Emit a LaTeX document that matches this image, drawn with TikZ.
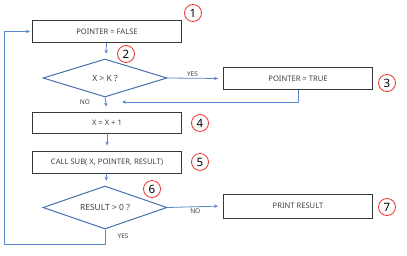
\documentclass[tikz,border=0pt]{standalone}
\usepackage{fontspec}
\setmainfont{Noto Sans}
\usetikzlibrary{arrows.meta,shapes.geometric}
\definecolor{fcline}{HTML}{5B87CF}
\definecolor{fcblue}{HTML}{4A6FAE}
\definecolor{fcedge}{HTML}{383838}
\definecolor{fctext}{HTML}{404040}
\definecolor{fcred}{HTML}{E8342C}

\begin{document}
\begin{tikzpicture}[x=1pt,y=-1pt,
    stepbox/.style={draw=fcedge,line width=0.9pt,minimum width=149pt,minimum height=22pt,
      inner sep=0pt,font=\fontsize{7.6}{9}\selectfont,text=fctext},
    test/.style={diamond,draw=fcblue,line width=1pt,aspect=2,minimum width=124pt,
      inner sep=0pt,font=\fontsize{8.5}{10}\selectfont,text=fctext},
    flow/.style={draw=fcline,line width=0.8pt,-{Stealth[length=4pt,width=3.5pt]},shorten >=5pt},
    tag/.style={font=\fontsize{6.5}{8}\selectfont,text=fctext,inner sep=1pt},
    numcirc/.style={circle,draw=fcred,line width=0.8pt,minimum size=17pt,inner sep=0pt,
      font=\fontsize{11.5}{12}\selectfont}]
  \useasboundingbox (0,0) rectangle (407,255);

  % boxes and tests
  \node[stepbox] (false) at (107,31.5) {POINTER = FALSE};
  \node[test,minimum height=38pt] (gt) at (105,78) {X > K ?};
  \node[stepbox] (true) at (298,78.5) {POINTER = TRUE};
  \node[stepbox,minimum height=21pt] (inc) at (107,122.5) {X = X + 1};
  \node[stepbox] (call) at (107,162) {CALL SUB( X, POINTER, RESULT)};
  \node[test,minimum height=43pt] (res) at (105,207.5) {RESULT > 0 ?};
  \node[stepbox,minimum height=24pt] (print) at (298,206) {PRINT RESULT};

  % numbers
  \foreach \n/\x/\y in {1/193/13, 2/126/54, 3/387/83, 4/200/123, 5/200/162, 6/152/189, 7/387/207}
    \node[numcirc] (num\n) at (\x,\y) {\n};

  \coordinate (back) at (117,102);
  \coordinate (loop) at (4,244);

  % connectors
  \draw[flow] (false) -- (gt);
  \draw[flow] (gt.east) -- node[tag,above,pos=0.45] {YES} (true.west);
  \draw[flow] (true.south) |- (back);
  \draw[flow] (gt.south) -- (inc.north);
  \node[tag] (gtno) at (85,102) {NO};
  \draw[flow] (inc) -- (call);
  \draw[flow] (call) -- (res);
  \draw[flow] (res.east) -- node[tag,below=1pt,pos=0.5] {NO} (print.west);
  \draw[flow,shorten >=2pt] (res.south) |- (loop) |- (false.west);
  \node[tag] (resyes) at (123,236) {YES};
\end{tikzpicture}
\end{document}
